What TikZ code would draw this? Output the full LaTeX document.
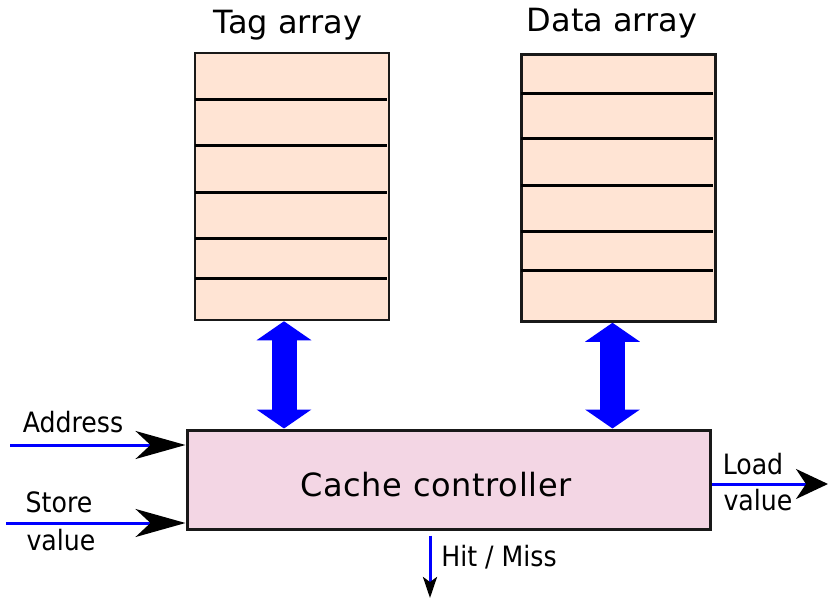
\documentclass[tikz,border=0pt]{standalone}
\usepackage{fontspec}
\setmainfont{DejaVu Sans}
\newfontfamily\condfont{DejaVu Sans Condensed}
\usetikzlibrary{arrows.meta,calc}
\definecolor{arrayfill}{RGB}{255,228,212}
\definecolor{ctrlfill}{RGB}{243,214,228}
\tikzset{
  arraybox/.style={draw=black!90, line width=2.5pt, fill=arrayfill, minimum width=194pt, minimum height=267pt, inner sep=0pt},
  ctrlbox/.style={draw=black!90, line width=3pt, fill=ctrlfill, minimum width=523pt, minimum height=99pt, inner sep=0pt},
  rowline/.style={line width=3pt, black},
  title/.style={font=\fontsize{32}{38}\selectfont},
  siglabel/.style={font=\condfont\fontsize{28}{34}\selectfont, inner sep=0pt},
  sigline/.style={blue, line width=3pt},
  biarrow/.style={blue, line width=25pt, {Triangle[width=54pt,length=19pt]}-{Triangle[width=54pt,length=19pt]}}
}

\begin{document}
\begin{tikzpicture}[x=1pt,y=-1pt]
				\useasboundingbox (0,0) rectangle (828,600);
				
				\node[arraybox] (tag) at (292,186.5) {};
				\node[arraybox] (data) at (618.5,188) {};
				\node[title] (tagtitle) at (288,25) {Tag array};
				\node[title] (datatitle) at (612,23) {Data array};
				
				\foreach \y in {99,145,192,238,278}
					\draw[rowline] (195,\y) -- (387,\y);
				\foreach \y in {93,138,185,231,270}
					\draw[rowline] (521,\y) -- (713,\y);
				
				\node[ctrlbox] (ctrl) at (448.5,479.5) {};
				\node[title] (ctrllabel) at (436,485) {\addfontfeatures{LetterSpace=2}Cache controller};
				
				\draw[biarrow] ([xshift=-8pt]tag.south) -- ([xshift=-8pt]tag.south |- ctrl.north);
				\draw[biarrow] ([xshift=-6pt]data.south) -- ([xshift=-6pt]data.south |- ctrl.north);
				
				\coordinate (addr) at (10,445);
				\coordinate (store) at (6,523);
				\coordinate (load) at (828,484);
				\coordinate (hit) at (430,598);
				
				\draw[sigline, -{Stealth[black,length=50pt,width=28pt,inset=15pt]}] (addr) -- (addr -| ctrl.west);
				\draw[sigline, -{Stealth[black,length=50pt,width=28pt,inset=15pt]}] (store) -- (store -| ctrl.west);
				\draw[sigline, -{Stealth[black,length=32pt,width=30pt,inset=10pt]}] (load -| ctrl.east) -- (load);
				\draw[sigline, shorten <=5pt, -{Stealth[black,length=21pt,width=14pt,inset=5pt]}] (hit |- ctrl.south) -- (hit);
				
				\node[siglabel] (addrlabel) at (73,422) {Address};
				\node[siglabel] (storelabel) at (59,502) {Store};
				\node[siglabel] (storevalue) at (61,540) {value};
				\node[siglabel] (loadlabel) at (753,464) {Load};
				\node[siglabel] (loadvalue) at (758,500) {value};
				\node[siglabel] (hitlabel) at (499,557) {Hit / Miss};
			\end{tikzpicture}
\end{document}
